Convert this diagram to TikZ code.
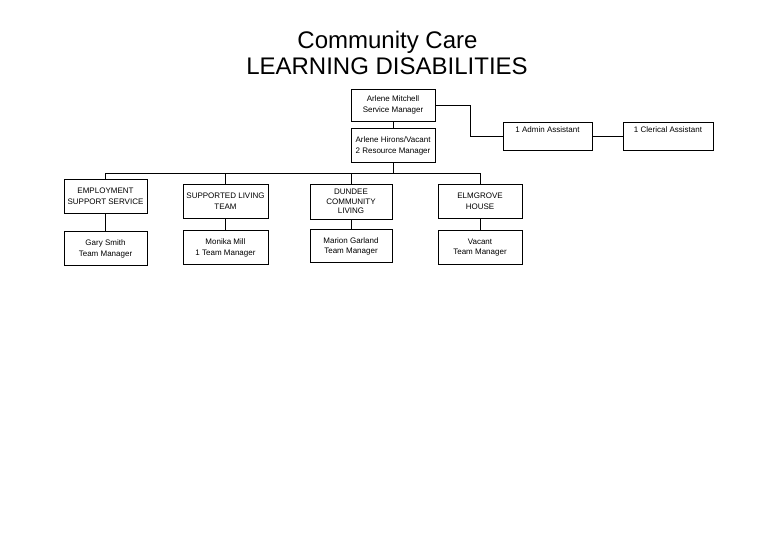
\documentclass[tikz,border=0pt]{standalone}
\usepackage{fontspec}
\setmainfont{Liberation Sans}
\usetikzlibrary{positioning}

\begin{document}
\begin{tikzpicture}[x=1pt,y=-1pt,
  unit/.style={draw,line width=0.7pt,fill=white,minimum height=34pt,
    align=center,font=\fontsize{8}{10.5}\selectfont,inner sep=1pt},
  aux/.style={unit,minimum height=28pt,text height=8pt,text depth=14pt,inner ysep=3pt},
  title/.style={anchor=base,font=\fontsize{24}{26}\selectfont,inner sep=0pt},
  link/.style={line width=0.7pt},
  node distance=12pt]
\useasboundingbox (0,0) rectangle (780,540);
\node[title](care) at (387.5,49){Community Care};
\node[title](ld) at (387,75){LEARNING DISABILITIES};

\node[unit,minimum width=84pt,minimum height=32pt](mgr) at (393,105){Arlene Mitchell\\Service Manager};
\node[unit,minimum width=84pt,below=7pt of mgr](res){Arlene Hirons/Vacant\\2 Resource Manager};
\node[aux,minimum width=89pt](admin) at (547.5,136){1 Admin Assistant};
\node[aux,minimum width=90pt](clerk) at (668,136){1 Clerical Assistant};

\node[unit,minimum width=83pt](emp) at (105.5,196){EMPLOYMENT\\SUPPORT SERVICE};
\node[unit,minimum width=85pt](sup) at (225.5,201){SUPPORTED LIVING\\TEAM};
\node[unit,minimum width=82pt,minimum height=35pt,
  font=\fontsize{8}{9.6}\selectfont](dun) at (351,201.5){DUNDEE\\COMMUNITY\\LIVING};
\node[unit,minimum width=84pt](elm) at (480,201){ELMGROVE\\HOUSE};

\node[unit,minimum width=83pt,below=18pt of emp](gary){Gary Smith\\Team Manager};
\node[unit,minimum width=85pt,below=of sup](mon){Monika Mill\\1 Team Manager};
\node[unit,minimum width=82pt,minimum height=33pt,below=10pt of dun](mar){Marion Garland\\Team Manager};
\node[unit,minimum width=84pt,below=of elm](vac){Vacant\\Team Manager};

\coordinate (bus) at (393,173);

\draw[link](mgr)--(res);
\draw[link](mgr.east)--++(35,0)|-(admin.west);
\draw[link](admin)--(clerk);
\draw[link](res)--(bus);
\draw[link](emp.north)|-(bus);
\draw[link](elm.north)|-(bus);
\draw[link](sup.north)--(sup.north|-bus);
\draw[link](dun.north)--(dun.north|-bus);
\draw[link](emp)--(gary);
\draw[link](sup)--(mon);
\draw[link](dun)--(mar);
\draw[link](elm)--(vac);
\end{tikzpicture}
\end{document}
